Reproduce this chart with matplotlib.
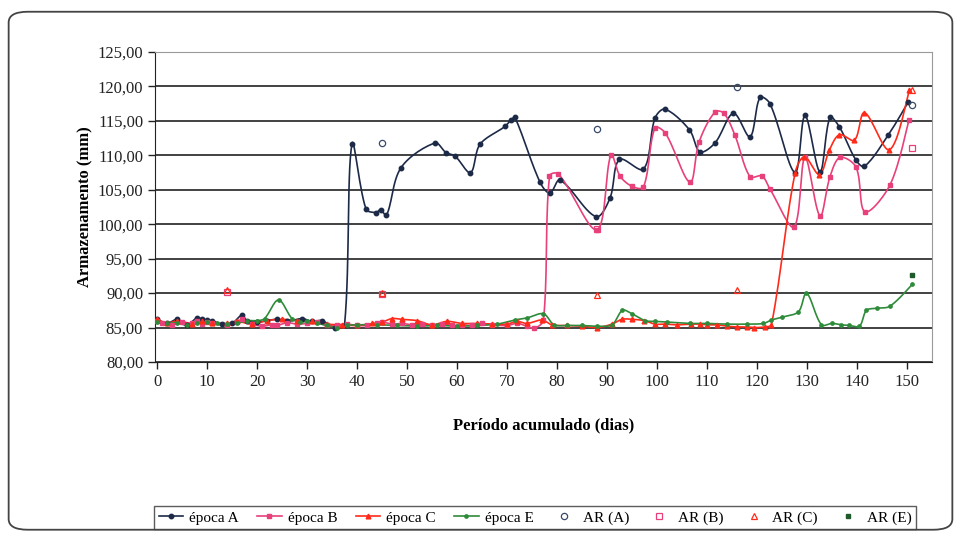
import numpy as np
import matplotlib
matplotlib.use("Agg")
import matplotlib.pyplot as plt
from matplotlib.patches import FancyBboxPatch

plt.rcParams['font.family'] = ['Liberation Serif', 'DejaVu Serif']

# ---- dados ----
dias_A = [0, 2, 4, 6, 8, 9, 10, 11, 13, 15, 17, 18, 20, 22, 24, 26, 29, 31, 33, 35.5, 37.5,
          39, 41.8, 43.8, 44.7, 45.9, 48.8, 55.6, 57.8, 59.6, 62.7, 64.6, 69.6, 70.9, 71.6,
          76.6, 78.6, 80.6, 87.8, 90.6, 92.5, 97.3, 99.6, 101.6, 106.5, 108.6, 111.6, 115.3,
          118.6, 120.6, 122.6, 127.6, 129.6, 132.6, 134.6, 136.5, 139.8, 141.5, 146.3, 150.3]
epoca_A = [86.2, 85.6, 86.2, 85.4, 86.4, 86.2, 86.1, 86.0, 85.5, 85.6, 86.8, 86.0, 85.8, 86.0,
           86.2, 85.9, 86.3, 85.9, 86.0, 85.0, 85.3,
           111.7, 102.2, 101.7, 102.1, 101.3, 108.2, 111.8, 110.4, 109.9, 107.5, 111.6, 114.2,
           115.2, 115.5, 106.1, 104.5, 106.4, 101.1, 103.8, 109.4, 108.0, 115.4, 116.7, 113.7,
           110.5, 111.8, 116.1, 112.7, 118.4, 117.5, 107.5, 115.8, 107.6, 115.5, 114.1, 109.3,
           108.4, 113.0, 117.8]

dias_B = [0, 1, 3, 5, 7, 8, 9, 10, 11, 14, 16, 17, 19, 21, 23, 24, 26, 28, 30, 32, 34, 36, 38,
          40, 42, 44, 45, 47, 49, 51, 53, 55, 57, 59, 61, 63, 65, 67, 70, 72, 74, 75.5, 77.3,
          78.5, 80.3, 88, 90.8, 92.6, 95, 97.3, 99.6, 101.7, 106.6, 108.4, 111.6, 113.4, 115.6,
          118.6, 121, 122.6, 127.4, 129.6, 132.6, 134.6, 136.6, 139.8, 141.6, 146.6, 150.4]
epoca_B = [86.0, 85.7, 85.4, 85.8, 85.6, 85.9, 85.5, 85.8, 85.6, 85.3, 85.8, 86.2, 85.5, 85.2,
           85.4, 85.3, 85.7, 85.5, 85.6, 85.8, 85.3, 85.4, 85.5, 85.3, 85.3, 85.6, 85.8, 85.5,
           85.6, 85.4, 85.5, 85.3, 85.5, 85.3, 85.4, 85.3, 85.6, 85.4, 85.3, 85.6, 85.2, 84.9,
           86.1,
           107.0, 107.3, 99.2, 110.1, 107.0, 105.5, 105.4, 114.0, 113.2, 106.1, 111.9, 116.3,
           116.1, 112.9, 106.9, 107.0, 105.1, 99.6, 109.7, 101.2, 106.9, 109.7, 108.3, 101.8,
           105.7, 115.1]

dias_C = [0, 2, 4, 7, 9, 11, 14, 16, 19, 22, 25, 28, 31, 34, 37, 40, 43, 45, 47, 49, 52, 55,
          58, 61, 64, 67, 70, 72, 74, 77, 79, 82, 85, 88, 91, 93, 95, 97.5, 99.6, 101.6, 104,
          106.9, 108.6, 110, 112, 114, 116, 118, 119.5, 121.6, 122.9,
          127.6, 129.5, 132.5, 134.5, 136.5, 139.5, 141.5, 146.5, 150.5]
epoca_C = [86.3, 85.6, 86.0, 85.5, 85.9, 85.7, 85.6, 85.9, 85.5, 86.0, 86.2, 86.0, 85.9, 85.5,
           85.4, 85.3, 85.6, 85.8, 86.3, 86.2, 86.0, 85.4, 85.9, 85.6, 85.6, 85.5, 85.5, 85.9,
           85.6, 86.1, 85.4, 85.3, 85.2, 85.0, 85.5, 86.2, 86.2, 86.0, 85.5, 85.5, 85.4, 85.5,
           85.5, 85.4, 85.4, 85.2, 85.1, 85.1, 85.0, 85.1, 85.4,
           107.4, 109.8, 107.2, 110.8, 113.0, 112.2, 116.2, 110.8, 119.5]

dias_E = [0, 2, 4, 6, 8, 10, 12, 14, 16, 18, 20, 21.5, 24.3, 27, 28.5, 30, 32, 34, 36, 38, 40,
          44, 48, 52, 56, 60, 64, 68, 71.6, 74, 77.3, 79.4, 82, 85, 88, 91, 93.1, 95, 97.6,
          99.6, 102, 106.6, 110, 114, 118, 121.3, 122.9, 125, 128.3, 129.9, 132.9, 135, 136.9,
          138.5, 140.5, 141.9, 144, 146.6, 151.1]
epoca_E = [85.8, 85.6, 85.7, 85.3, 85.6, 85.8, 85.6, 85.5, 85.6, 86.0, 86.0, 86.3, 89.0, 86.3,
           85.8, 85.9, 85.6, 85.3, 85.0, 85.3, 85.4, 85.4, 85.3, 85.2, 85.3, 85.2, 85.3, 85.5,
           86.1, 86.4, 87.0, 85.4, 85.3, 85.3, 85.2, 85.4, 87.5, 87.0, 86.0, 85.9, 85.8, 85.6,
           85.6, 85.5, 85.5, 85.6, 86.1, 86.5, 87.3, 90.0, 85.4, 85.6, 85.4, 85.3, 85.2, 87.5,
           87.8, 88.1, 91.3]

ar_A_dias = [45, 88, 116, 151]
ar_A = [111.8, 113.8, 119.9, 117.3]
ar_B_dias = [14, 45, 88, 151]
ar_B = [90.2, 89.8, 99.3, 111.0]
ar_C_dias = [14, 45, 88, 116, 151]
ar_C = [90.5, 90.0, 89.7, 90.5, 119.5]
ar_E_dias = [151]
ar_E = [92.7]

yticks = [80, 85, 90, 95, 100, 105, 110, 115, 120, 125]
xticks = list(range(0, 151, 10))


def suaviza(x, y, n=16, sx=5.0, sy=6.9):
    # linha suavizada tipo Excel: Bezier com tangentes ponderadas pelo comprimento dos trechos
    x = np.asarray(x, float)
    y = np.asarray(y, float)
    m = len(x)
    px, py = x * sx, y * sy
    d = np.hypot(np.diff(px), np.diff(py))
    xs, ys = [x[0]], [y[0]]
    for i in range(m - 1):
        i0, i3 = max(i - 1, 0), min(i + 2, m - 1)
        da = d[i - 1] if i > 0 else d[i]
        db = d[i]
        dc = d[i + 1] if i + 1 < m - 1 else d[i]
        f1 = db / (da + db) / 1.5
        f2 = db / (db + dc) / 1.5
        c1x = x[i] + (x[i + 1] - x[i0]) * f1 / 2
        c1y = y[i] + (y[i + 1] - y[i0]) * f1 / 2
        c2x = x[i + 1] - (x[i3] - x[i]) * f2 / 2
        c2y = y[i + 1] - (y[i3] - y[i]) * f2 / 2
        t = np.linspace(0, 1, n)[1:]
        bx = (1-t)**3*x[i] + 3*(1-t)**2*t*c1x + 3*(1-t)*t**2*c2x + t**3*x[i + 1]
        by = (1-t)**3*y[i] + 3*(1-t)**2*t*c1y + 3*(1-t)*t**2*c2y + t**3*y[i + 1]
        xs.extend(bx)
        ys.extend(by)
    return np.array(xs), np.array(ys)


fig = plt.figure(figsize=(9.61, 5.34), dpi=100)
ax = fig.add_axes([0.1613, 0.3221, 0.8085, 0.5805])

cores = {"A": "#1c2a48", "B": "#e8407a", "C": "#ff2a1a", "E": "#2e8b3a"}

series = [("época A", dias_A, epoca_A, cores["A"], "o", 3.2),
          ("época B", dias_B, epoca_B, cores["B"], "s", 3.0),
          ("época C", dias_C, epoca_C, cores["C"], "^", 3.4),
          ("época E", dias_E, epoca_E, cores["E"], "o", 2.4)]

for nome, dx, dy, cor, mk, ms in series:
    sx, sy = suaviza(dx, dy)
    ax.plot(sx, sy, color=cor, lw=1.2, zorder=3)
    ax.plot(dx, dy, linestyle="none", marker=mk, ms=ms, color=cor, zorder=4)
    ax.plot([], [], color=cor, lw=1.2, marker=mk, ms=ms, label=nome)

ax.plot(ar_A_dias, ar_A, "o", ms=4.5, mfc="none", mec="#3a4a6a", mew=0.9, label="AR (A)", zorder=5)
ax.plot(ar_B_dias, ar_B, "s", ms=4.5, mfc="none", mec=cores["B"], mew=0.9, label="AR (B)", zorder=5)
ax.plot(ar_C_dias, ar_C, "^", ms=5, mfc="none", mec=cores["C"], mew=0.9, label="AR (C)", zorder=5)
ax.plot(ar_E_dias, ar_E, "s", ms=3, color="#1f5a2a", label="AR (E)", zorder=5)

ax.set_xlim(-0.4, 155)
ax.set_ylim(80, 125)
ax.set_xticks(xticks)
ax.set_yticks(yticks)
ax.set_yticklabels([("%.2f" % v).replace(".", ",") for v in yticks])
ax.tick_params(axis="both", labelsize=12, direction="out", length=5, width=1, colors="#222222")
ax.grid(axis="y", color="#333333", lw=1.3)
ax.set_axisbelow(True)
for s in ["top", "right"]:
    ax.spines[s].set_color("#9a9a9a")
for s in ["left", "bottom"]:
    ax.spines[s].set_color("#222222")

ax.set_xlabel("Período acumulado (dias)", fontsize=12, fontweight="bold", labelpad=20)
ax.set_ylabel("Armazenamento (mm)", fontsize=12, fontweight="bold", labelpad=3)

leg = fig.legend(loc="center", bbox_to_anchor=(0.5567, 0.030), ncol=8, fontsize=11,
                 frameon=True, fancybox=False, edgecolor="#333333", handlelength=1.6,
                 handletextpad=0.4, columnspacing=1.2, borderpad=0.3)
leg.get_frame().set_linewidth(1.0)

borda = FancyBboxPatch((0.009, 0.008), 0.982, 0.97, boxstyle="round,pad=0,rounding_size=0.02",
                       transform=fig.transFigure, fill=False, edgecolor="#444444", lw=1.3)
fig.patches.append(borda)

fig.savefig("out.png", dpi=100)
